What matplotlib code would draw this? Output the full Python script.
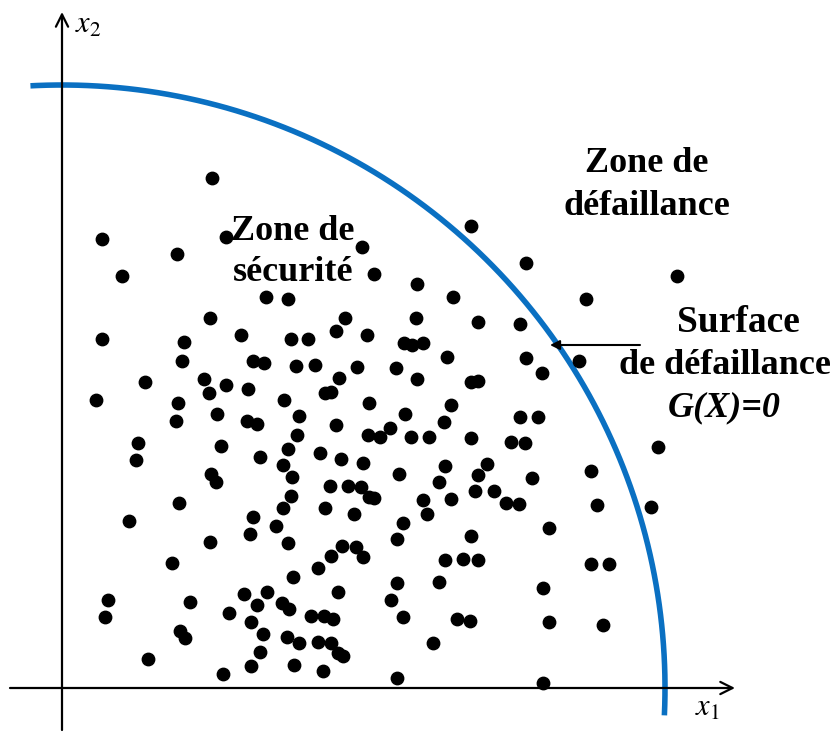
import numpy as np
import matplotlib
matplotlib.use('Agg')
from matplotlib import pyplot as plt

# sample points (x1, x2)
x1 = [150, 40, 164, 115, 60, 204, 409, 300, 312, 355, 391, 226, 464, 615, 524,
      148, 40, 179, 122, 120, 191, 202, 83, 142, 164, 147, 186, 34, 116, 222,
      114, 155, 185, 195, 283, 354, 416, 274, 229, 246, 305, 342, 350, 361, 234,
      253, 295, 277, 334, 385, 355, 409, 416, 263, 269, 307, 389, 237, 343, 274,
      382, 235, 306, 318, 328, 349, 367, 409, 458, 464, 517, 480, 458, 476, 76,
      74, 159, 198, 149, 154, 117, 67, 191, 214, 188, 148, 110, 226, 258, 279,
      301, 221, 230, 268, 286, 299, 307, 312, 229, 221, 263, 292, 337, 383, 377,
      416, 413, 389, 361, 365, 341, 335, 409, 226, 280, 294, 269, 301, 256, 383,
      401, 416, 449, 463, 596, 425, 470, 529, 432, 444, 457, 535, 589, 487, 529,
      547, 46, 43, 128, 182, 205, 195, 220, 167, 118, 123, 189, 201, 198, 189,
      86, 161, 231, 335, 377, 276, 227, 329, 249, 262, 271, 341, 395, 408, 225,
      237, 256, 269, 276, 281, 232, 261, 335, 371, 481, 487, 541, 481]
x2 = [510, 449, 451, 434, 412, 391, 462, 441, 414, 404, 391, 389, 425, 412, 389,
      370, 349, 353, 346, 327, 327, 325, 306, 309, 303, 295, 299, 288, 285, 288,
      267, 274, 267, 264, 370, 370, 366, 357, 349, 349, 353, 345, 343, 345, 322,
      323, 321, 310, 320, 331, 309, 306, 307, 295, 296, 285, 283, 272, 274, 263,
      266, 253, 253, 251, 260, 251, 251, 250, 364, 330, 327, 315, 271, 271, 245,
      228, 242, 231, 214, 206, 185, 167, 171, 162, 154, 146, 125, 239, 235, 229,
      225, 223, 211, 202, 202, 201, 191, 190, 192, 180, 180, 174, 214, 222, 206,
      213, 197, 189, 188, 174, 165, 149, 152, 145, 142, 141, 132, 131, 120, 128,
      129, 128, 246, 245, 241, 224, 210, 217, 197, 185, 184, 183, 181, 160, 124,
      124, 88, 71, 86, 94, 96, 83, 85, 75, 57, 50, 66, 54, 36, 22,
      29, 14, 111, 105, 106, 96, 79, 88, 72, 72, 69, 71, 69, 67, 51,
      45, 46, 45, 35, 32, 23, 17, 10, 45, 100, 66, 63, 5]

R = 603  # radius of the limit state G(X)=0
arc_deg = [-2.6, 93]

fig = plt.figure(figsize=(8.33, 7.33), dpi=100)
ax = fig.add_axes([0, 0, 1, 1])
ax.set_xlim(-62, 771)
ax.set_ylim(-45, 688)
ax.axis('off')

# axes with arrow heads
ax.annotate('', xy=(673, 0), xytext=(-52, 0),
            arrowprops=dict(arrowstyle='->', color='black', lw=1.6,
                            mutation_scale=22, shrinkA=0, shrinkB=0))
ax.annotate('', xy=(0, 676), xytext=(0, -42),
            arrowprops=dict(arrowstyle='->', color='black', lw=1.6,
                            mutation_scale=22, shrinkA=0, shrinkB=0))

# limit surface
t = np.radians(np.linspace(arc_deg[0], arc_deg[1], 300))
ax.plot(R * np.cos(t), R * np.sin(t), color='#0A70C2', lw=4, solid_capstyle='butt')

ax.scatter(x1, x2, s=80, color='black', zorder=3)

serif = 'Liberation Serif'
ax.text(26, 663, r'$x_2$', fontsize=22, ha='center', va='center',
        math_fontfamily='stix')
ax.text(645, -20, r'$x_1$', fontsize=22, ha='center', va='center',
        math_fontfamily='stix')

ax.text(231, 436, 'Zone de\nsécurité', family=serif, weight='bold', fontsize=26,
        ha='center', va='center', linespacing=1.3)
ax.text(585, 503, 'Zone de\ndéfaillance', family=serif, weight='bold', fontsize=26,
        ha='center', va='center', linespacing=1.4)
ax.text(676, 365, 'Surface', family=serif, weight='bold', fontsize=27,
        ha='center', va='center')
ax.text(663, 323, 'de défaillance', family=serif, weight='bold', fontsize=26,
        ha='center', va='center')
ax.text(662, 280, 'G(X)=0', family=serif, weight='bold', style='italic',
        fontsize=26, ha='center', va='center')

ax.annotate('', xy=(488, 343), xytext=(578, 343),
            arrowprops=dict(arrowstyle='-|>', color='black', lw=1.5,
                            mutation_scale=14, shrinkA=0, shrinkB=0))

fig.savefig('out.png', dpi=100)
